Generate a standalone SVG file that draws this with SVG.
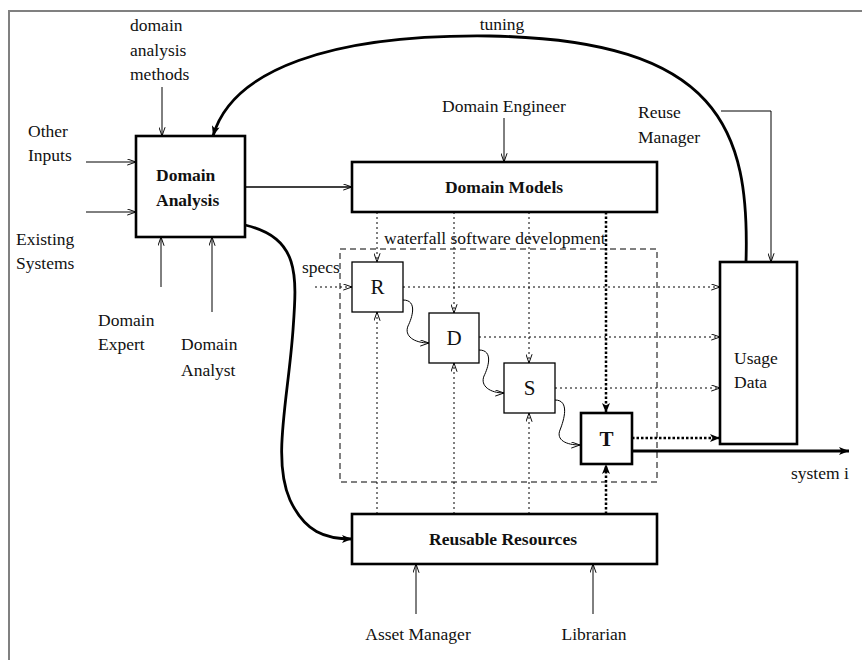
<svg xmlns="http://www.w3.org/2000/svg" width="862" height="660" viewBox="0 0 862 660">
<defs>
<style>
text{font-family:"Liberation Serif","Times New Roman",serif;font-size:17.5px;fill:#111}
.b{font-weight:bold}
.c{text-anchor:middle}
.box{fill:#fff;stroke:#000}
.thin{fill:none;stroke:#000;stroke-width:1}
.dot{fill:none;stroke:#000;stroke-width:1;stroke-dasharray:2 3}
.tdot{fill:none;stroke:#000;stroke-width:2.5;stroke-dasharray:2.5 2}
.thick{fill:none;stroke:#000;stroke-width:2.8}
</style>
<marker id="open" viewBox="0 0 10 8" refX="10" refY="4" markerWidth="9" markerHeight="7" orient="auto" markerUnits="userSpaceOnUse"><path d="M0,0.5 L10,4 L0,7.5" fill="none" stroke="#000" stroke-width="1.1"/></marker>
<marker id="fill" viewBox="0 0 10 8" refX="10" refY="4" markerWidth="11" markerHeight="8" orient="auto" markerUnits="userSpaceOnUse"><path d="M0,0 L10,4 L0,8 L2.5,4 Z" fill="#000"/></marker>
</defs>
<rect width="862" height="660" fill="#fff"/>
<g id="frame" stroke="#808080" stroke-width="2" fill="none"><path d="M862,11 H9 V660"/></g>

<g id="waterfall-frame">
<rect x="340" y="249" width="317" height="233" fill="none" stroke="#000" stroke-width="1" stroke-dasharray="6 4"/>
<text x="384" y="244">waterfall software development</text>
</g>

<g id="connectors">
<!-- inputs to Domain Analysis -->
<line class="thin" x1="162" y1="87" x2="162" y2="136" marker-end="url(#open)"/>
<line class="thin" x1="86" y1="162" x2="136" y2="162" marker-end="url(#open)"/>
<line class="thin" x1="86" y1="212" x2="136" y2="212" marker-end="url(#open)"/>
<line class="thin" x1="161" y1="287" x2="161" y2="237" marker-end="url(#open)"/>
<line class="thin" x1="212" y1="312" x2="212" y2="237" marker-end="url(#open)"/>
<!-- Domain Analysis to Domain Models -->
<line x1="245" y1="187" x2="352" y2="187" stroke="#000" stroke-width="1.5" fill="none" marker-end="url(#open)"/>
<!-- Domain Engineer -->
<line class="thin" x1="504" y1="118" x2="504" y2="162" marker-end="url(#open)"/>
<!-- tuning -->
<path class="thick" d="M746,262 C750,130 720,40 490,36 C330,34 232,70 213,136" marker-end="url(#fill)"/>
<!-- Reuse Manager -->
<path class="thin" d="M721,111 H771 V262" marker-end="url(#open)"/>
<!-- Domain Analysis to Reusable Resources -->
<path class="thick" d="M245,225 C300,238 297,275 293,330 C288,400 272,460 290,500 C305,532 325,539 352,539" marker-end="url(#fill)"/>
<!-- Domain Models down -->
<line class="dot" x1="377" y1="212" x2="377" y2="262" marker-end="url(#open)"/>
<line class="dot" x1="454" y1="212" x2="454" y2="313" marker-end="url(#open)"/>
<line class="dot" x1="529" y1="212" x2="529" y2="363" marker-end="url(#open)"/>
<line class="tdot" x1="606" y1="212" x2="606" y2="413" marker-end="url(#fill)"/>
<!-- Reusable Resources up -->
<line class="dot" x1="377" y1="514" x2="377" y2="312" marker-end="url(#open)"/>
<line class="dot" x1="454" y1="514" x2="454" y2="363" marker-end="url(#open)"/>
<line class="dot" x1="529" y1="514" x2="529" y2="413" marker-end="url(#open)"/>
<line class="tdot" x1="606" y1="514" x2="606" y2="464" marker-end="url(#fill)"/>
<!-- to Usage Data -->
<line class="dot" x1="403" y1="287" x2="720" y2="287" marker-end="url(#open)"/>
<line class="dot" x1="479" y1="337" x2="720" y2="337" marker-end="url(#open)"/>
<line class="dot" x1="555" y1="388" x2="720" y2="388" marker-end="url(#open)"/>
<line class="tdot" x1="632" y1="438" x2="720" y2="438" marker-end="url(#fill)"/>
<!-- specs -->
<line class="dot" x1="315" y1="287" x2="352" y2="287" marker-end="url(#open)"/>
<!-- waterfall steps -->
<path class="thin" d="M403,300 C418,300 412,318 408,326 C404,336 414,343 429,343" marker-end="url(#open)"/>
<path class="thin" d="M479,350 C494,350 488,368 484,376 C480,386 490,393 504,393" marker-end="url(#open)"/>
<path class="thin" d="M555,400 C570,400 564,420 560,430 C556,440 566,445 580,445" marker-end="url(#open)"/>
<!-- system i -->
<line class="thick" x1="632" y1="451" x2="849" y2="451" marker-end="url(#fill)"/>
<!-- Asset Manager, Librarian -->
<line class="thin" x1="416" y1="614" x2="416" y2="564" marker-end="url(#open)"/>
<line class="thin" x1="593" y1="614" x2="593" y2="564" marker-end="url(#open)"/>
</g>

<g id="domain-analysis">
<rect class="box" x="136" y="136" width="109" height="101" stroke-width="2.6"/>
<text class="b" x="156" y="181">Domain</text>
<text class="b" x="156" y="206">Analysis</text>
</g>
<g id="domain-models">
<rect class="box" x="352" y="162" width="305" height="50" stroke-width="2.6"/>
<text class="b c" x="504" y="193">Domain Models</text>
</g>
<g id="reusable-resources">
<rect class="box" x="352" y="514" width="305" height="50" stroke-width="2.6"/>
<text class="b c" x="503" y="545">Reusable Resources</text>
</g>
<g id="usage-data">
<rect class="box" x="720" y="262" width="77" height="182" stroke-width="2.6"/>
<text x="734" y="364">Usage</text>
<text x="734" y="388">Data</text>
</g>
<g id="R">
<rect class="box" x="352" y="262" width="51" height="50" stroke-width="1.3"/>
<text class="c" x="377.5" y="294" style="font-size:21px">R</text>
</g>
<g id="D">
<rect class="box" x="429" y="313" width="50" height="50" stroke-width="1.3"/>
<text class="c" x="454" y="345" style="font-size:21px">D</text>
</g>
<g id="S">
<rect class="box" x="504" y="363" width="51" height="50" stroke-width="1.3"/>
<text class="c" x="529.5" y="395" style="font-size:21px">S</text>
</g>
<g id="T">
<rect class="box" x="581" y="413" width="51" height="51" stroke-width="2.6"/>
<text class="b c" x="606.5" y="446" style="font-size:21px">T</text>
</g>

<g id="labels">
<text x="130" y="31">domain</text>
<text x="130" y="56">analysis</text>
<text x="130" y="80">methods</text>
<text x="28" y="137">Other</text>
<text x="28" y="161">Inputs</text>
<text x="16" y="245">Existing</text>
<text x="16" y="269">Systems</text>
<text x="98" y="326">Domain</text>
<text x="98" y="350">Expert</text>
<text x="181" y="350">Domain</text>
<text x="181" y="376">Analyst</text>
<text class="c" x="504" y="112">Domain Engineer</text>
<text class="c" x="502" y="30">tuning</text>
<text x="638" y="118">Reuse</text>
<text x="638" y="143">Manager</text>
<text x="302" y="273">specs</text>
<text x="791" y="479">system i</text>
<text class="c" x="418" y="640">Asset Manager</text>
<text class="c" x="594" y="640">Librarian</text>
</g>
</svg>
